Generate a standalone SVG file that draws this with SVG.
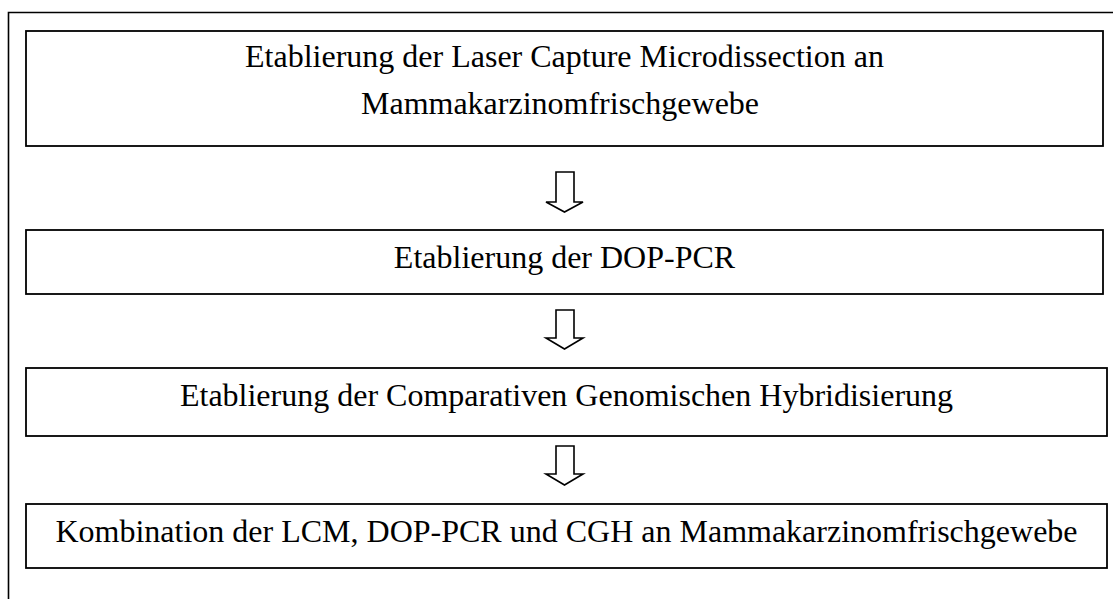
<svg xmlns="http://www.w3.org/2000/svg" width="1113" height="599" viewBox="0 0 1113 599">
<style>
.box{fill:#fff;stroke:#000;stroke-width:1.8}
.frame{fill:none;stroke:#000;stroke-width:1.6}
.arrow{fill:#fff;stroke:#000;stroke-width:1.6;stroke-linejoin:miter}
text{font-family:"Liberation Serif","Times New Roman",serif;font-size:32px;fill:#000;text-anchor:middle}
</style>
<rect width="1113" height="599" fill="#fff"/>
<path class="frame" d="M8.5,599 V12.5 H1113"/>
<g id="node1">
<rect class="box" x="26" y="31" width="1077" height="115"/>
<text x="564.5" y="67">Etablierung der Laser Capture Microdissection an</text>
<text x="560" y="114">Mammakarzinomfrischgewebe</text>
</g>
<g id="node2">
<rect class="box" x="26" y="230" width="1077" height="64"/>
<text x="564.5" y="268">Etablierung der DOP-PCR</text>
</g>
<g id="node3">
<rect class="box" x="26" y="368" width="1081" height="68"/>
<text x="566.5" y="406">Etablierung der Comparativen Genomischen Hybridisierung</text>
</g>
<g id="node4">
<rect class="box" x="26" y="504" width="1081" height="64"/>
<text x="566.5" y="542">Kombination der LCM, DOP-PCR und CGH an Mammakarzinomfrischgewebe</text>
</g>
<g id="connectors">
<polygon class="arrow" points="556,172 574,172 574,202 583,202 564.5,212 546,202 556,202"/>
<polygon class="arrow" points="556,310 574,310 574,338 583,338 564.5,349 546,338 556,338"/>
<polygon class="arrow" points="556,446 574,446 574,474 583,474 564.5,485 546,474 556,474"/>
</g>
</svg>
